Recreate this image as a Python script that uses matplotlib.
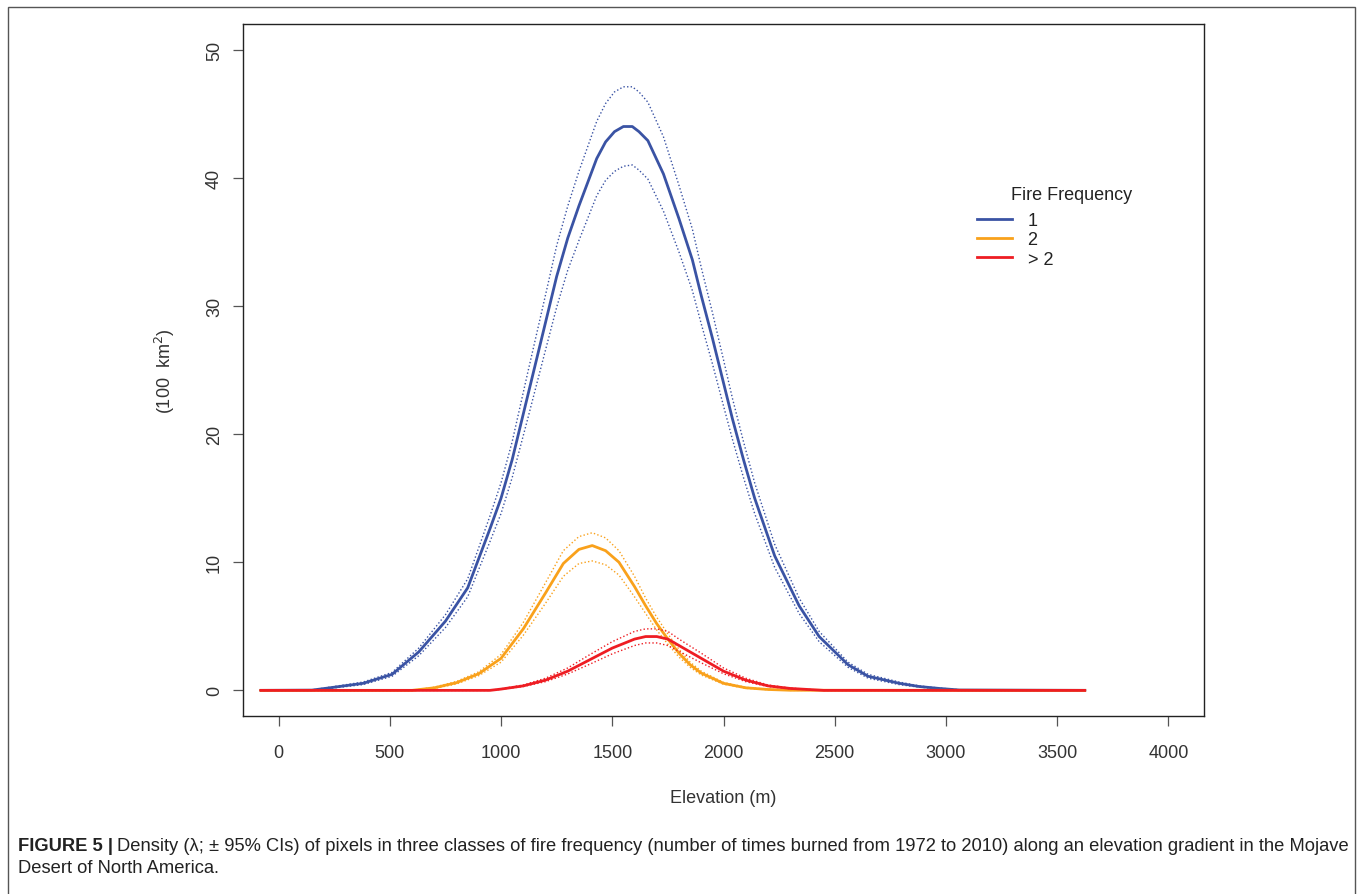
import matplotlib
matplotlib.use("Agg")
import matplotlib.pyplot as plt
from matplotlib.lines import Line2D
from matplotlib.patches import Rectangle

plt.rcParams['font.family'] = ['Liberation Sans', 'DejaVu Sans']

# ---------------- data ----------------
x_blue = [-85, 150, 230, 380, 510, 630, 750, 850, 950, 1000, 1050, 1120, 1190, 1250, 1300,
          1350, 1430, 1470, 1510, 1550, 1590, 1620, 1660, 1730, 1800, 1860, 1900, 1950, 2000,
          2040, 2090, 2140, 2230, 2340, 2430, 2560, 2650, 2790, 2880, 2970, 3060, 3630]
blue = [0, 0.02, 0.2, 0.55, 1.25, 3.0, 5.4, 8.0, 12.6, 15.0, 18.0, 23.0, 28.0, 32.3, 35.3,
        37.8, 41.5, 42.8, 43.6, 44.0, 44.0, 43.6, 42.9, 40.3, 36.8, 33.6, 30.8, 27.5, 24.0,
        21.2, 18.0, 15.0, 10.5, 6.6, 4.2, 2.0, 1.1, 0.55, 0.3, 0.15, 0.03, 0]
blue_hi = [0, 0.03, 0.25, 0.65, 1.4, 3.3, 5.9, 8.7, 13.6, 16.2, 19.4, 24.8, 30.1, 34.7, 37.8,
           40.5, 44.4, 45.8, 46.7, 47.1, 47.1, 46.7, 45.9, 43.2, 39.4, 36.0, 33.0, 29.5, 25.8,
           22.8, 19.4, 16.2, 11.4, 7.2, 4.6, 2.2, 1.25, 0.65, 0.35, 0.18, 0.05, 0]
blue_lo = [0, 0.01, 0.15, 0.45, 1.1, 2.7, 4.9, 7.3, 11.6, 13.8, 16.6, 21.2, 25.9, 29.9, 32.8,
           35.1, 38.6, 39.8, 40.5, 40.9, 41.0, 40.6, 39.9, 37.4, 34.2, 31.2, 28.6, 25.5, 22.2,
           19.6, 16.6, 13.8, 9.6, 6.0, 3.8, 1.8, 0.95, 0.45, 0.25, 0.12, 0.02, 0]

x_orange = [-85, 600, 700, 800, 900, 1000, 1100, 1200, 1280, 1350, 1410, 1470, 1530, 1600,
            1650, 1700, 1750, 1800, 1850, 1900, 2000, 2100, 2200, 2300, 3630]
orange = [0, 0, 0.2, 0.6, 1.3, 2.5, 4.8, 7.6, 9.9, 11.0, 11.3, 10.9, 10.0, 8.1,
          6.6, 5.2, 4.0, 2.9, 2.0, 1.35, 0.55, 0.2, 0.07, 0.01, 0]
orange_hi = [0, 0, 0.25, 0.7, 1.45, 2.8, 5.3, 8.4, 10.9, 12.0, 12.3, 11.9, 10.9, 8.9,
             7.2, 5.7, 4.4, 3.2, 2.2, 1.5, 0.62, 0.24, 0.09, 0.02, 0]
orange_lo = [0, 0, 0.15, 0.5, 1.15, 2.2, 4.3, 6.8, 8.9, 9.9, 10.1, 9.8, 9.0, 7.3,
             6.0, 4.7, 3.6, 2.6, 1.8, 1.2, 0.48, 0.16, 0.05, 0.0, 0]

x_red = [-85, 950, 1000, 1100, 1200, 1300, 1400, 1500, 1600, 1650, 1700, 1750, 1800, 1900,
         2000, 2100, 2200, 2300, 2400, 2450, 3630]
red = [0, 0, 0.1, 0.35, 0.8, 1.5, 2.4, 3.3, 4.0, 4.2, 4.2, 4.0, 3.5, 2.5,
       1.5, 0.8, 0.35, 0.15, 0.05, 0, 0]
red_hi = [0, 0, 0.12, 0.42, 0.95, 1.75, 2.8, 3.8, 4.6, 4.8, 4.8, 4.6, 4.0, 2.9,
          1.75, 0.95, 0.42, 0.18, 0.06, 0, 0]
red_lo = [0, 0, 0.08, 0.3, 0.68, 1.28, 2.05, 2.85, 3.5, 3.7, 3.7, 3.5, 3.05, 2.15,
          1.3, 0.68, 0.3, 0.12, 0.04, 0, 0]

x_ticks = [0, 500, 1000, 1500, 2000, 2500, 3000, 3500, 4000]
y_ticks = [0, 10, 20, 30, 40, 50]
legend_labels = ["1", "2", "> 2"]
legend_title = "Fire Frequency"
colors = ["#3A53A4", "#F9A11B", "#EE1D23"]

caption_bold = "FIGURE 5 |"
caption_line1 = ("Density (\u03bb; \u00b1 95% CIs) of pixels in three classes of fire frequency "
                 "(number of times burned from 1972 to 2010) along an elevation gradient in the Mojave")
caption_line2 = "Desert of North America."

# ---------------- figure ----------------
W, H = 1358, 895
fig = plt.figure(figsize=(W / 100, H / 100), dpi=100)

# outer frame
fig.patches.append(Rectangle((8 / W, -0.05), (1355 - 8) / W, 1.05 - 8 / H,
                             transform=fig.transFigure, fill=False,
                             edgecolor="#555555", linewidth=1.0))

ax = fig.add_axes([243 / W, 1 - 717 / H, (1204 - 243) / W, (717 - 25) / H])

series = [(x_blue, blue, blue_hi, blue_lo),
          (x_orange, orange, orange_hi, orange_lo),
          (x_red, red, red_hi, red_lo)]
for (xs, c, hi, lo), col in zip(series, colors):
    ax.plot(xs, hi, color=col, lw=1.0, ls=(0, (1, 1.6)))
    ax.plot(xs, lo, color=col, lw=1.0, ls=(0, (1, 1.6)))
    ax.plot(xs, c, color=col, lw=2.0, solid_capstyle="butt", solid_joinstyle="round")

ax.set_xlim(-160, 4160)
ax.set_ylim(-2, 52)
ax.set_xticks(x_ticks)
ax.set_yticks(y_ticks)
ax.set_xticklabels([str(v) for v in x_ticks])
ax.set_yticklabels([str(v) for v in y_ticks], rotation=90, va="center")
ax.tick_params(axis="both", direction="out", length=7.5, width=0.9, color="#555555",
               labelsize=13, labelcolor="#333333")
ax.tick_params(axis="x", pad=13)
ax.tick_params(axis="y", pad=7)
for sp in ax.spines.values():
    sp.set_color("#222222")
    sp.set_linewidth(1.0)

ax.set_xlabel("Elevation (m)", fontsize=13, color="#333333", labelpad=20)
ax.set_ylabel("(100  km$^2$)", fontsize=13, color="#333333", labelpad=21)

# legend (entries) + title
handles = [Line2D([0], [0], color=c, lw=2.0) for c in colors]
ax_w, ax_h = 1204 - 243, 717 - 25
leg = ax.legend(handles, legend_labels, frameon=False,
                fontsize=13, handlelength=1.95, handletextpad=0.85,
                labelspacing=0.13, loc="upper left",
                bbox_to_anchor=((977 - 243) / ax_w, 1 - (213 - 25) / ax_h),
                borderaxespad=0, borderpad=0)
for t in leg.get_texts():
    t.set_color("#222222")
ax.text((1072 - 243) / ax_w, 1 - (195 - 25) / ax_h, legend_title, transform=ax.transAxes,
        fontsize=13, color="#222222", ha="center", va="center")

# caption
fs_cap = 13.2
tb = fig.text(18 / W, 1 - 847 / H, caption_bold, fontsize=fs_cap, fontweight="bold",
              color="#222222", va="center", ha="left")
fig.canvas.draw()
bb = tb.get_window_extent(fig.canvas.get_renderer())
fig.text((bb.x1 + 4) / W, 1 - 847 / H, caption_line1, fontsize=fs_cap, color="#222222",
         va="center", ha="left")
fig.text(18 / W, 1 - 869 / H, caption_line2, fontsize=fs_cap, color="#222222",
         va="center", ha="left")

fig.savefig("out.png", dpi=100)
